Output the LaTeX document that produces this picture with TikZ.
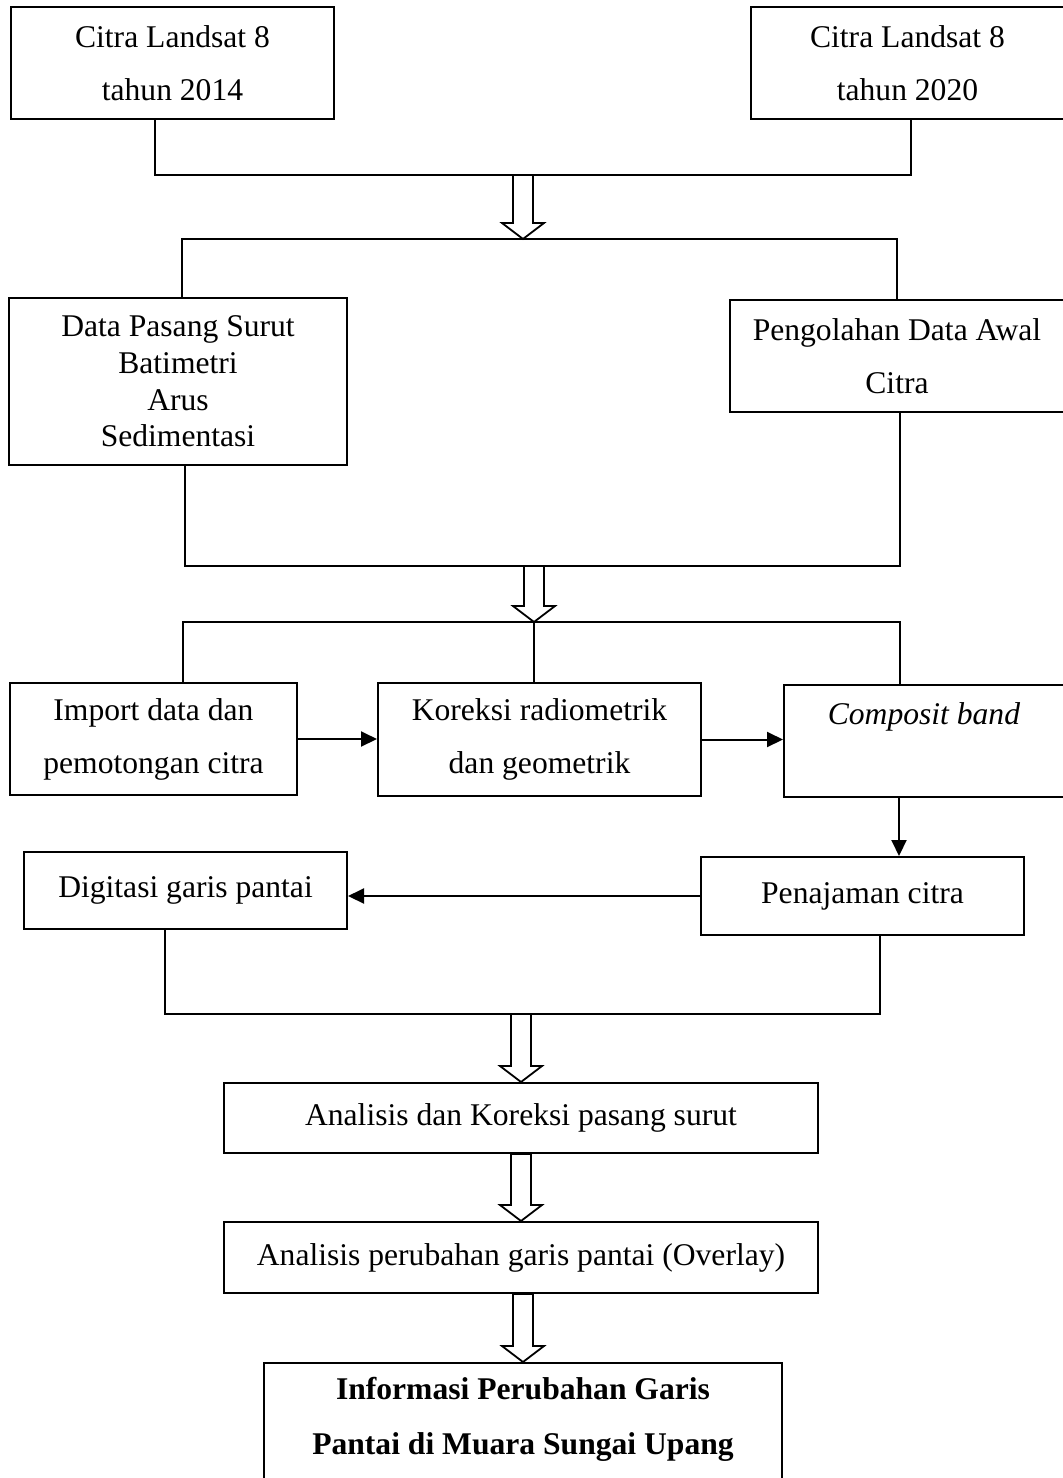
\documentclass[tikz,border=0pt]{standalone}
\usepackage{fontspec}
\setmainfont{Liberation Serif}
\usepackage{tikz}
\usetikzlibrary{arrows.meta, calc}
\tikzstyle{box} = [draw, rectangle, line width=1pt, align=center, inner sep=0pt, font=\fontsize{15.8}{26.5}\selectfont]
\tikzstyle{line} = [line width=0.8pt]
\tikzstyle{arrow} = [line width=1pt,-{Triangle[length=8pt,width=7.5pt]}]
\newcommand{\fatarrow}[2]{\draw[line width=0.9pt, fill=white] ($(#1)+(-10,0)$) -- ($(#2)+(-10,-16)$) -- ($(#2)+(-21,-16)$) -- (#2) -- ($(#2)+(21,-16)$) -- ($(#2)+(10,-16)$) -- ($(#1)+(10,0)$) -- cycle;}

\begin{document}
\begin{tikzpicture}[x=0.5pt, y=-0.5pt]
        \useasboundingbox (0,0) rectangle (1062,1478);

        % Boxes
        \node[box, minimum width=161.5pt, minimum height=56pt] (c14) at (172.5,63) {Citra Landsat 8\\tahun 2014};
        \node[box, minimum width=156.5pt, minimum height=56pt] (c20) at (907.5,63) {Citra Landsat 8\\tahun 2020};
        \node[box, minimum width=169pt, minimum height=83.5pt, font=\fontsize{15.8}{18.3}\selectfont] (data) at (178,381.5) {Data Pasang Surut\\Batimetri\\Arus\\Sedimentasi};
        \node[box, minimum width=167pt, minimum height=56pt] (olah) at (897,356) {Pengolahan Data Awal\\Citra};
        \node[box, minimum width=143.5pt, minimum height=56pt] (import) at (153.5,739) {Import data dan\\pemotongan citra};
        \node[box, minimum width=161.5pt, minimum height=56.5pt] (koreksi) at (539.5,739.5) {Koreksi radiometrik\\dan geometrik};
        \node[box, minimum width=140pt, minimum height=56pt, text depth=27pt] (comp) at (924,741) {\textit{Composit band}};
        \node[box, minimum width=161.5pt, minimum height=39pt] (penaj) at (862.5,896) {Penajaman citra};
        \node[box, minimum width=161.5pt, minimum height=38.5pt] (digit) at (185.5,890.5) {Digitasi garis pantai};
        \node[box, minimum width=297pt, minimum height=35pt] (analisis) at (521,1118) {Analisis dan Koreksi pasang surut};
        \node[box, minimum width=297pt, minimum height=35.5pt] (overlay) at (521,1257.5) {Analisis perubahan garis pantai (Overlay)};
        \node[box, minimum width=259pt, minimum height=63.5pt, text depth=11pt, font=\fontsize{15.8}{27.5}\selectfont\bfseries] (info) at (523,1426.5) {Informasi Perubahan Garis\\Pantai di Muara Sungai Upang};

        % Junctions
        \coordinate (j1) at (523,175);
        \coordinate (j2) at (523,239);
        \coordinate (j3) at (534,566);
        \coordinate (j4) at (534,622);
        \coordinate (j5) at (521,1014);
        \coordinate (j6) at (overlay.south -| info.north);

        % Lines
        \draw[line] ([xshift=-8.75pt]c14.south) |- (j1) -| ([xshift=1.75pt]c20.south);
        \draw[line] ([xshift=2pt]data.north) |- (j2) -| (olah.north);
        \draw[line] ([xshift=3.5pt]data.south) |- (j3) -| ([xshift=1.5pt]olah.south);
        \draw[line] ([xshift=14.75pt]import.north) |- (j4) -| ([xshift=-12pt]comp.north);
        \draw[line] (j4) -- (j4 |- koreksi.north);
        \draw[line] ([xshift=-10.25pt]digit.south) |- (j5) -| ([xshift=8.75pt]penaj.south);

        % Arrows
        \draw[arrow] (import.east) -- (import.east -| koreksi.west);
        \draw[arrow] (koreksi.east) -- (koreksi.east -| comp.west);
        \draw[arrow] ([xshift=-12.5pt]comp.south) -- ([xshift=-12.5pt]comp.south |- penaj.north);
        \draw[arrow] (penaj.west) -- (penaj.west -| digit.east);

        % Hollow arrows
        \fatarrow{j1}{j2}
        \fatarrow{j3}{j4}
        \fatarrow{j5}{analisis.north}
        \fatarrow{analisis.south}{overlay.north}
        \fatarrow{j6}{info.north}
      \end{tikzpicture}
\end{document}
